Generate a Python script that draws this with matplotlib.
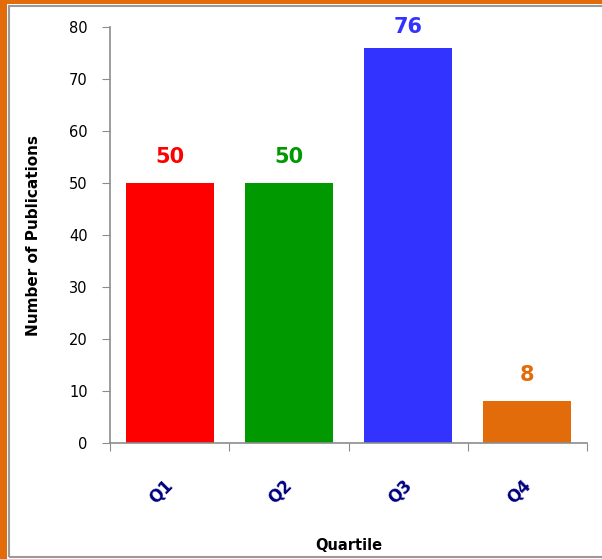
import matplotlib.pyplot as plt
import matplotlib.patches as mpatches
import matplotlib.transforms as mtrans

quartiles = ['Q1', 'Q2', 'Q3', 'Q4']
publications = [50, 50, 76, 8]
bar_colors = ['#FF0000', '#009A00', '#3333FF', '#E36C0A']

fig = plt.figure(figsize=(6.02, 5.59), dpi=100)
W, H = 602.0, 559.0

# orange frame on left and top, then grey chart border
fig.patches.append(mpatches.Rectangle((0, 0), 7 / W, 1, transform=fig.transFigure,
                                      facecolor='#E36C0A', edgecolor='none'))
fig.patches.append(mpatches.Rectangle((0, 1 - 4 / H), 1, 4 / H, transform=fig.transFigure,
                                      facecolor='#E36C0A', edgecolor='none'))
fig.patches.append(mpatches.Rectangle((8.5 / W, 2 / H), 1.0, 1 - 7.5 / H, transform=fig.transFigure,
                                      facecolor='none', edgecolor='#9A9A9A', linewidth=1.5))

ax = fig.add_axes([110 / W, 1 - 443 / H, 477 / W, 416 / H])
x = range(len(quartiles))
ax.bar(x, publications, width=0.74, color=bar_colors)

# value labels, kept inside the plot area like the original
for i, v in enumerate(publications):
    ax.text(i, min(v + 5, 80), str(v), ha='center', va='center', color=bar_colors[i],
            fontsize=15, fontweight='bold')

ax.set_xlim(-0.5, 3.5)
ax.set_ylim(0, 80)
ax.set_yticks(range(0, 81, 10))
ax.tick_params(axis='y', direction='out', length=6, color='#8C8C8C', labelsize=10.5, pad=10)

ax.set_xticks([-0.5, 0.5, 1.5, 2.5, 3.5])
ax.set_xticklabels([])
ax.tick_params(axis='x', direction='out', length=6, color='#8C8C8C')
ax.set_xticks(list(x), minor=True)
labels = ax.set_xticklabels(quartiles, minor=True, rotation=45, ha='right',
                            color='#000080', fontsize=12, fontweight='bold')
ax.tick_params(axis='x', which='minor', length=0, pad=24)
shift = mtrans.ScaledTranslation(7 / 100, 0, fig.dpi_scale_trans)
for lab in labels:
    lab.set_transform(lab.get_transform() + shift)

for side in ['top', 'right']:
    ax.spines[side].set_visible(False)
for side in ['left', 'bottom']:
    ax.spines[side].set_color('#8C8C8C')
    ax.spines[side].set_linewidth(1.2)

ax.set_ylabel('Number of Publications', fontsize=11, fontweight='bold', labelpad=20)
ax.set_xlabel('Quartile', fontsize=10.5, fontweight='bold', labelpad=22)

plt.savefig('out.png', dpi=100)
